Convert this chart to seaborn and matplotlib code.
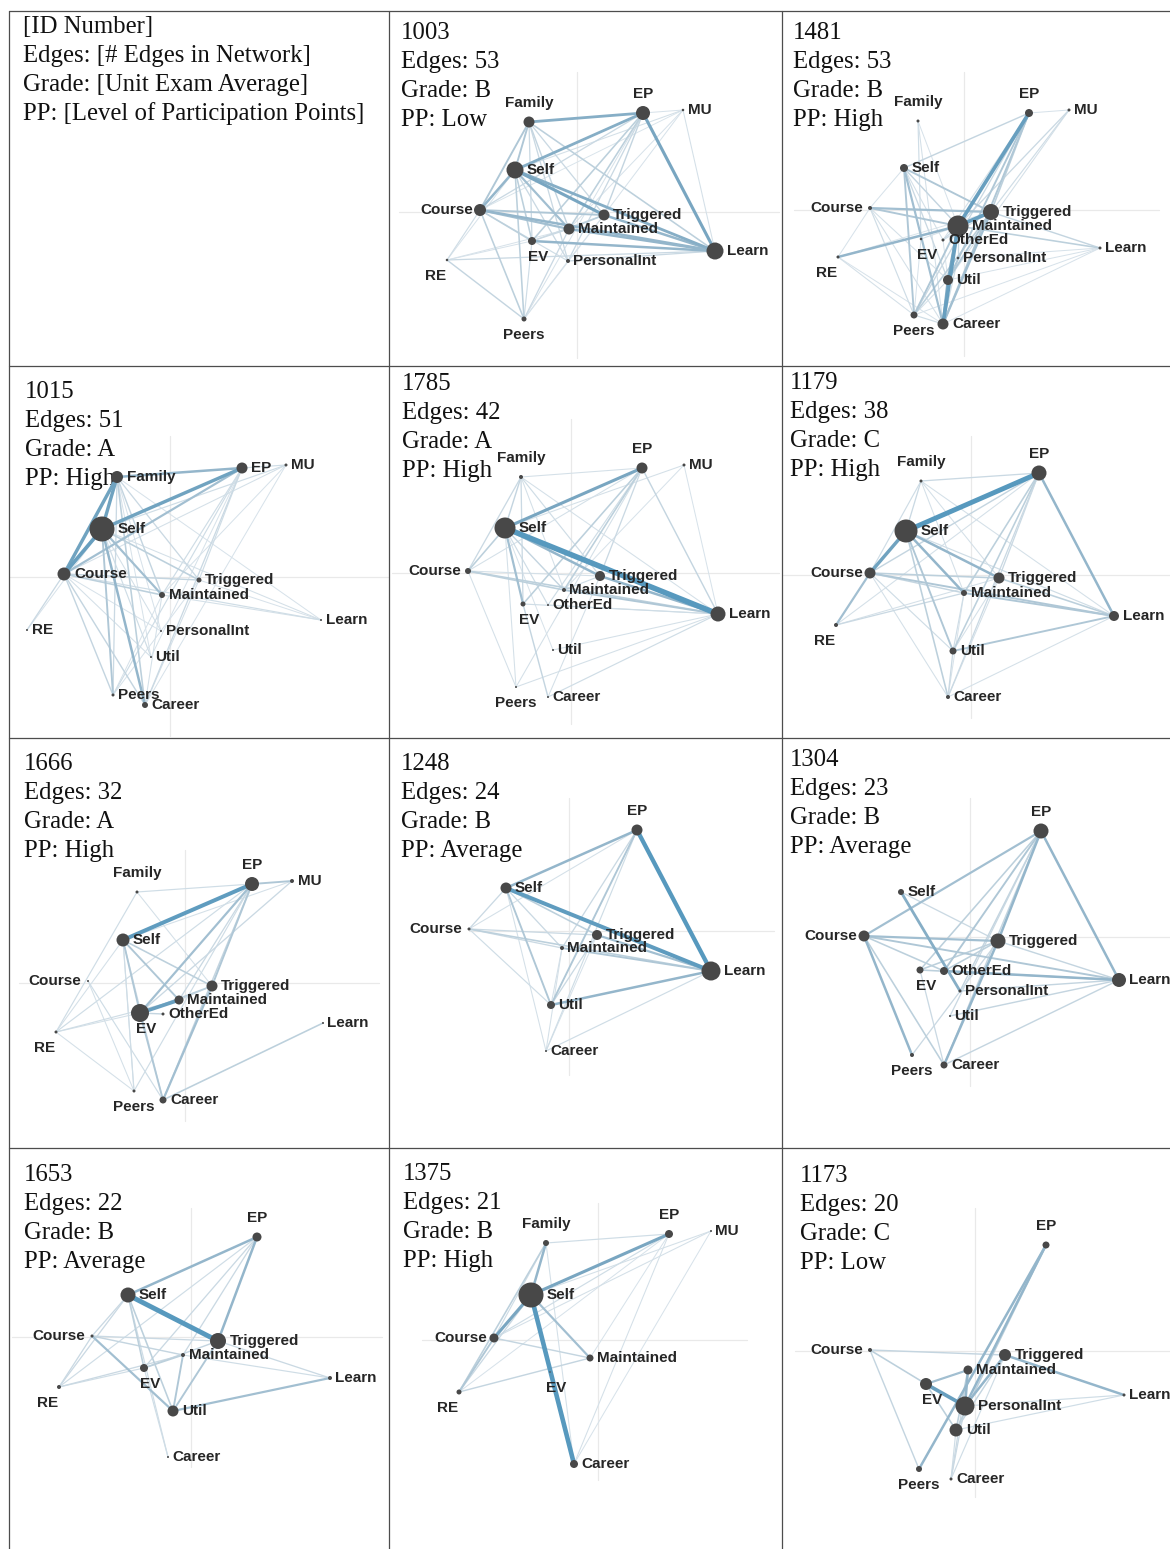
import numpy as np
import pandas as pd
import matplotlib.pyplot as plt
import seaborn as sns
from matplotlib.collections import LineCollection
from matplotlib.colors import LinearSegmentedColormap
from matplotlib.lines import Line2D

# Epistemic network models for 11 students. Node coordinates are in ENA space
# (about 100 px per unit), third value is node diameter (px, ~ weighted degree).

W, H = 1170, 1549

ids = ['1003', '1481', '1015', '1785', '1179', '1666', '1248', '1304', '1653', '1375', '1173']
edge_counts = [53, 53, 51, 42, 38, 32, 24, 23, 22, 21, 20]
grades = ['B', 'B', 'A', 'A', 'C', 'A', 'B', 'B', 'B', 'B', 'C']
pp_levels = ['Low', 'High', 'High', 'High', 'High', 'High', 'Average', 'Average', 'Average', 'High', 'Low']

header_lines = ['[ID Number]', 'Edges: [# Edges in Network]',
                'Grade: [Unit Exam Average]', 'PP: [Level of Participation Points]']

nodes_1003 = {'Family': (-0.48, 0.90, 11), 'EP': (0.66, 0.99, 14), 'MU': (1.06, 1.02, 2.5),
              'Self': (-0.62, 0.42, 17), 'Course': (-0.97, 0.02, 12), 'Triggered': (0.27, -0.03, 11),
              'Maintained': (-0.08, -0.17, 11), 'EV': (-0.45, -0.29, 8), 'PersonalInt': (-0.09, -0.49, 4),
              'Learn': (1.38, -0.39, 17), 'RE': (-1.30, -0.48, 2.5), 'Peers': (-0.53, -1.07, 5)}
edges_1003 = [('Family', 'EP', .35), ('Self', 'EP', .35), ('Self', 'Triggered', .4), ('Self', 'Learn', .35),
              ('EP', 'Learn', .4), ('Course', 'Self', .3), ('Course', 'Learn', .3), ('EV', 'Learn', .3),
              ('Maintained', 'Learn', .3), ('Triggered', 'Learn', .3), ('Course', 'Maintained', .25),
              ('Family', 'Self', .2), ('Family', 'Course', .2), ('Course', 'Triggered', .2),
              ('Self', 'Maintained', .25), ('Family', 'Learn', .15), ('Family', 'Maintained', .12),
              ('Family', 'EV', .1), ('Family', 'PersonalInt', .1), ('Family', 'Triggered', .1),
              ('EP', 'EV', .15), ('EP', 'Maintained', .15), ('EP', 'Course', .1), ('EP', 'Triggered', .12),
              ('EP', 'PersonalInt', .1), ('EP', 'MU', .05), ('EP', 'Peers', .05), ('Self', 'EV', .15),
              ('Self', 'PersonalInt', .1), ('Self', 'Peers', .15), ('Self', 'MU', .06), ('Self', 'RE', .05),
              ('Course', 'EV', .15), ('Course', 'Peers', .15), ('Course', 'RE', .08), ('Course', 'PersonalInt', .08),
              ('RE', 'Peers', .12), ('RE', 'Learn', .1), ('RE', 'EV', .05), ('RE', 'Maintained', .05),
              ('Peers', 'Maintained', .1), ('Peers', 'EV', .08), ('Peers', 'PersonalInt', .05),
              ('Peers', 'Triggered', .05), ('MU', 'Learn', .06), ('MU', 'Maintained', .05),
              ('MU', 'Triggered', .05), ('MU', 'Course', .04), ('EV', 'Maintained', .1), ('EV', 'Triggered', .08),
              ('PersonalInt', 'Learn', .1), ('Maintained', 'Triggered', .15), ('PersonalInt', 'Triggered', .05)]

nodes_1481 = {'Family': (-0.46, 0.89, 3), 'EP': (0.65, 0.97, 8), 'MU': (1.05, 1.00, 3), 'Self': (-0.60, 0.42, 8),
              'Course': (-0.94, 0.02, 4), 'Triggered': (0.27, -0.02, 16), 'Maintained': (-0.06, -0.16, 21),
              'OtherEd': (-0.21, -0.30, 3), 'EV': (-0.43, -0.29, 2.5), 'PersonalInt': (-0.06, -0.48, 2.5),
              'Learn': (1.36, -0.38, 3), 'RE': (-1.26, -0.47, 3), 'Util': (-0.16, -0.70, 10),
              'Peers': (-0.50, -1.05, 7), 'Career': (-0.21, -1.14, 11)}
edges_1481 = [('Maintained', 'EP', .5), ('Maintained', 'Career', .5), ('Maintained', 'Triggered', .5),
              ('Util', 'Career', .35), ('Maintained', 'Util', .35), ('Maintained', 'RE', .3),
              ('Course', 'Triggered', .25), ('Course', 'Maintained', .2), ('Self', 'Triggered', .2),
              ('Self', 'Career', .25), ('Self', 'Peers', .2), ('EP', 'Util', .2), ('EP', 'Career', .2),
              ('Peers', 'Maintained', .2), ('Peers', 'Triggered', .15), ('Maintained', 'Learn', .15),
              ('Triggered', 'Learn', .12), ('Triggered', 'Career', .25), ('Triggered', 'Util', .2),
              ('Self', 'EP', .12), ('Self', 'Maintained', .12), ('Family', 'EV', .08), ('MU', 'Maintained', .1),
              ('MU', 'Triggered', .08), ('MU', 'Util', .06), ('EP', 'Triggered', .15), ('EP', 'Peers', .1),
              ('Course', 'RE', .05), ('RE', 'Peers', .06), ('Course', 'Peers', .08), ('Course', 'Career', .06),
              ('Course', 'Util', .06), ('Self', 'Util', .1), ('Self', 'OtherEd', .06), ('OtherEd', 'Maintained', .1),
              ('PersonalInt', 'Maintained', .1), ('PersonalInt', 'Career', .08), ('Learn', 'Util', .05),
              ('Learn', 'Career', .05), ('Learn', 'PersonalInt', .05), ('EV', 'Maintained', .06),
              ('EV', 'Peers', .05), ('Family', 'Maintained', .05), ('Family', 'Career', .06),
              ('Career', 'Peers', .08), ('Learn', 'Peers', .05), ('Util', 'OtherEd', .05), ('RE', 'Career', .05),
              ('RE', 'Triggered', .04), ('EP', 'MU', .05), ('Course', 'Self', .05), ('EP', 'OtherEd', .06),
              ('Triggered', 'OtherEd', .08), ('Util', 'Peers', .06)]

nodes_1015 = {'Family': (-0.53, 1.00, 12), 'EP': (0.72, 1.09, 11), 'MU': (1.16, 1.12, 3), 'Self': (-0.68, 0.48, 25),
              'Course': (-1.06, 0.03, 13), 'Triggered': (0.29, -0.03, 5), 'Maintained': (-0.08, -0.18, 6),
              'RE': (-1.43, -0.53, 2), 'Learn': (1.51, -0.43, 2), 'PersonalInt': (-0.09, -0.54, 2),
              'Util': (-0.19, -0.80, 2), 'Peers': (-0.57, -1.18, 3), 'Career': (-0.25, -1.28, 6)}
edges_1015 = [('Self', 'Course', .5), ('Self', 'Family', .45), ('Self', 'EP', .45), ('Family', 'Course', .45),
              ('Family', 'EP', .3), ('Course', 'EP', .25), ('Self', 'Maintained', .25), ('Self', 'Career', .3),
              ('Self', 'Peers', .2), ('Self', 'Triggered', .15), ('Course', 'Triggered', .12),
              ('Course', 'Maintained', .15), ('Family', 'Maintained', .12), ('Family', 'Career', .15),
              ('Family', 'Peers', .1), ('Family', 'Triggered', .1), ('EP', 'Maintained', .08),
              ('EP', 'Triggered', .08), ('EP', 'Career', .1), ('EP', 'Peers', .08), ('EP', 'MU', .08),
              ('Course', 'RE', .1), ('Course', 'Peers', .12), ('Course', 'Career', .12), ('Course', 'Learn', .08),
              ('Course', 'Util', .06), ('Self', 'Learn', .06), ('Self', 'Util', .08), ('Self', 'PersonalInt', .06),
              ('MU', 'Self', .08), ('MU', 'Course', .06), ('MU', 'Career', .05), ('MU', 'Maintained', .05),
              ('Maintained', 'Learn', .06), ('Triggered', 'Learn', .05), ('Career', 'Triggered', .06),
              ('Peers', 'Triggered', .05), ('PersonalInt', 'Family', .05), ('Util', 'Family', .05),
              ('Util', 'EP', .05), ('Career', 'Maintained', .06), ('Peers', 'Maintained', .05),
              ('Family', 'Learn', .05), ('RE', 'Self', .05), ('Course', 'PersonalInt', .05)]

nodes_1785 = {'Family': (-0.50, 0.96, 4), 'EP': (0.71, 1.05, 11), 'MU': (1.13, 1.08, 3), 'Self': (-0.66, 0.45, 21),
              'Course': (-1.03, 0.02, 6), 'Triggered': (0.29, -0.03, 10), 'Maintained': (-0.07, -0.17, 4),
              'EV': (-0.48, -0.31, 5), 'OtherEd': (-0.23, -0.32, 2), 'Learn': (1.47, -0.41, 15),
              'Util': (-0.18, -0.77, 2), 'Peers': (-0.55, -1.14, 2), 'Career': (-0.23, -1.24, 2)}
edges_1785 = [('Self', 'Learn', .8), ('Self', 'EP', .4), ('Self', 'Triggered', .3), ('Triggered', 'Learn', .3),
              ('Self', 'EV', .25), ('Self', 'Course', .15), ('Maintained', 'Learn', .2), ('Course', 'Learn', .15),
              ('Course', 'Maintained', .15), ('EP', 'Learn', .12), ('EP', 'EV', .15), ('EP', 'Maintained', .15),
              ('EP', 'Triggered', .1), ('EP', 'OtherEd', .08), ('EP', 'Course', .06), ('Family', 'Self', .12),
              ('Family', 'Course', .1), ('Family', 'EV', .1), ('Family', 'Triggered', .08), ('Family', 'Learn', .06),
              ('Family', 'EP', .06), ('MU', 'Self', .06), ('MU', 'Maintained', .05), ('MU', 'Learn', .05),
              ('EV', 'Career', .12), ('EV', 'Learn', .08), ('Self', 'Maintained', .12), ('Self', 'OtherEd', .08),
              ('Peers', 'Course', .06), ('Peers', 'Learn', .06), ('Peers', 'Self', .06), ('Peers', 'EP', .06),
              ('Util', 'Learn', .06), ('Career', 'Learn', .08), ('Career', 'Triggered', .06), ('Util', 'Self', .05),
              ('OtherEd', 'Learn', .06), ('Maintained', 'Triggered', .08), ('Course', 'Triggered', .06),
              ('Family', 'Maintained', .06)]

nodes_1179 = {'Family': (-0.50, 0.94, 3), 'EP': (0.68, 1.02, 15), 'Self': (-0.65, 0.44, 23), 'Course': (-1.01, 0.02, 11),
              'Triggered': (0.28, -0.03, 11), 'Maintained': (-0.07, -0.18, 6), 'Learn': (1.43, -0.41, 10),
              'RE': (-1.35, -0.50, 4), 'Util': (-0.18, -0.76, 7), 'Career': (-0.23, -1.22, 4)}
edges_1179 = [('Self', 'EP', .7), ('Self', 'Course', .45), ('Self', 'Triggered', .3), ('Self', 'Maintained', .3),
              ('EP', 'Learn', .3), ('Course', 'RE', .25), ('Course', 'Learn', .2), ('Maintained', 'Learn', .2),
              ('Triggered', 'Learn', .15), ('Util', 'Learn', .2), ('Self', 'Util', .2), ('Self', 'Career', .15),
              ('EP', 'Util', .15), ('EP', 'Maintained', .15), ('EP', 'Career', .1), ('EP', 'Course', .12),
              ('EP', 'Triggered', .1), ('Family', 'EP', .1), ('Family', 'Self', .1), ('Family', 'Course', .08),
              ('Family', 'Maintained', .06), ('Family', 'Learn', .06), ('Family', 'Triggered', .06),
              ('Course', 'Triggered', .15), ('Course', 'Maintained', .12), ('Course', 'Util', .08),
              ('Course', 'Career', .06), ('RE', 'Maintained', .1), ('RE', 'Triggered', .06), ('RE', 'EP', .06),
              ('Util', 'Career', .1), ('Career', 'Learn', .06), ('Maintained', 'Util', .08),
              ('Career', 'Triggered', .06), ('Self', 'Learn', .08), ('Util', 'Triggered', .06),
              ('Career', 'Maintained', .05)]

nodes_1666 = {'Family': (-0.48, 0.91, 3), 'EP': (0.67, 0.99, 14), 'MU': (1.07, 1.02, 4), 'Self': (-0.62, 0.43, 13),
              'Course': (-0.97, 0.02, 2), 'Triggered': (0.27, -0.03, 11), 'Maintained': (-0.06, -0.17, 9),
              'EV': (-0.45, -0.30, 18), 'OtherEd': (-0.22, -0.31, 3), 'RE': (-1.29, -0.49, 3),
              'Learn': (1.38, -0.40, 2), 'Peers': (-0.51, -1.08, 3), 'Career': (-0.22, -1.17, 7)}
edges_1666 = [('Self', 'EP', .55), ('EV', 'Maintained', .5), ('EV', 'EP', .25), ('EP', 'MU', .2),
              ('EP', 'Triggered', .2), ('Career', 'Triggered', .25), ('Career', 'EV', .2), ('Self', 'EV', .2),
              ('Self', 'Triggered', .15), ('Self', 'Maintained', .2), ('Career', 'Learn', .15),
              ('EV', 'Triggered', .15), ('EV', 'OtherEd', .12), ('Maintained', 'Triggered', .1),
              ('Maintained', 'EP', .1), ('Family', 'EP', .08), ('Family', 'RE', .08), ('Family', 'Triggered', .06),
              ('Course', 'Career', .08), ('Course', 'Peers', .06), ('RE', 'EP', .08), ('RE', 'Maintained', .08),
              ('RE', 'Peers', .06), ('RE', 'EV', .06), ('Peers', 'EP', .08), ('Peers', 'Self', .08),
              ('MU', 'EV', .1), ('Career', 'EP', .12), ('Self', 'Peers', .06), ('Career', 'Self', .06),
              ('RE', 'Self', .06), ('MU', 'Self', .06)]

nodes_1248 = {'EP': (0.68, 1.01, 11), 'Self': (-0.63, 0.43, 11), 'Course': (-1.00, 0.02, 3),
              'Triggered': (0.28, -0.04, 10), 'Maintained': (-0.07, -0.17, 4), 'Learn': (1.42, -0.40, 19),
              'Util': (-0.18, -0.74, 8), 'Career': (-0.23, -1.20, 2)}
edges_1248 = [('EP', 'Learn', .6), ('Self', 'Learn', .55), ('Self', 'EP', .3), ('Triggered', 'Learn', .25),
              ('Maintained', 'Learn', .2), ('Util', 'Learn', .3), ('Self', 'Triggered', .15), ('Self', 'Util', .2),
              ('EP', 'Util', .2), ('EP', 'Maintained', .1), ('Course', 'Self', .1), ('Course', 'Learn', .15),
              ('Course', 'Triggered', .1), ('Course', 'Maintained', .1), ('Course', 'Util', .08),
              ('Career', 'Learn', .08), ('Career', 'Self', .06), ('Career', 'EP', .08), ('Career', 'Maintained', .06),
              ('Self', 'Maintained', .1), ('Util', 'Triggered', .1), ('Course', 'EP', .06), ('Util', 'Maintained', .06),
              ('Career', 'Triggered', .05)]

nodes_1304 = {'EP': (0.71, 1.06, 15), 'Self': (-0.69, 0.45, 6), 'Course': (-1.06, 0.01, 11),
              'Triggered': (0.28, -0.04, 15), 'EV': (-0.50, -0.33, 7), 'OtherEd': (-0.26, -0.34, 8),
              'PersonalInt': (-0.10, -0.54, 3), 'Learn': (1.49, -0.43, 14), 'Util': (-0.20, -0.79, 2),
              'Peers': (-0.58, -1.18, 4), 'Career': (-0.26, -1.28, 7)}
edges_1304 = [('EP', 'Learn', .3), ('EP', 'Triggered', .3), ('EP', 'Course', .25), ('EP', 'OtherEd', .2),
              ('EP', 'EV', .15), ('EP', 'PersonalInt', .12), ('EP', 'Util', .1), ('EP', 'Career', .12),
              ('Self', 'PersonalInt', .35), ('Self', 'Triggered', .1), ('Course', 'Triggered', .25),
              ('Course', 'Learn', .2), ('Course', 'Peers', .3), ('Course', 'Career', .15), ('Course', 'OtherEd', .15),
              ('Triggered', 'Career', .3), ('Triggered', 'EV', .15), ('Triggered', 'OtherEd', .15),
              ('OtherEd', 'Learn', .3), ('EV', 'Learn', .15), ('PersonalInt', 'Learn', .12), ('Util', 'Learn', .12),
              ('Career', 'Learn', .12), ('Peers', 'Triggered', .1), ('EV', 'Career', .1), ('Triggered', 'Learn', .12)]

nodes_1653 = {'EP': (0.66, 1.00, 9), 'Self': (-0.63, 0.42, 15), 'Course': (-0.99, 0.01, 3),
              'Triggered': (0.27, -0.04, 16), 'Maintained': (-0.08, -0.18, 4), 'EV': (-0.47, -0.31, 8),
              'RE': (-1.32, -0.50, 4), 'Learn': (1.39, -0.41, 4), 'Util': (-0.18, -0.74, 11), 'Career': (-0.23, -1.20, 2)}
edges_1653 = [('Self', 'Triggered', .7), ('Self', 'EP', .3), ('EP', 'Triggered', .3), ('EP', 'Maintained', .1),
              ('EP', 'EV', .1), ('EP', 'RE', .08), ('Course', 'Util', .25), ('Course', 'Maintained', .12),
              ('Course', 'Triggered', .1), ('Course', 'RE', .1), ('Self', 'Util', .15), ('Self', 'EV', .15),
              ('Self', 'Course', .1), ('Self', 'RE', .1), ('Self', 'Career', .08), ('Util', 'Triggered', .2),
              ('Util', 'Maintained', .2), ('Util', 'Learn', .25), ('EV', 'Maintained', .15), ('EV', 'Triggered', .12),
              ('RE', 'Maintained', .1), ('RE', 'EV', .08), ('Triggered', 'Learn', .1), ('Maintained', 'Learn', .08),
              ('Career', 'EV', .08)]

nodes_1375 = {'Family': (-0.52, 0.97, 6), 'EP': (0.71, 1.06, 8), 'MU': (1.13, 1.09, 2), 'Self': (-0.67, 0.45, 25),
              'Course': (-1.04, 0.02, 9), 'Maintained': (-0.08, -0.18, 7), 'EV': (-0.48, -0.32, 1.5),
              'RE': (-1.39, -0.52, 5), 'Career': (-0.24, -1.24, 8)}
edges_1375 = [('Self', 'Career', .65), ('Self', 'EP', .4), ('Self', 'Course', .4), ('Self', 'Family', .3),
              ('Self', 'Maintained', .25), ('Course', 'RE', .2), ('Family', 'RE', .15), ('Course', 'Maintained', .12),
              ('RE', 'Maintained', .12), ('Family', 'EP', .08), ('MU', 'Self', .06), ('MU', 'Course', .06),
              ('EP', 'Course', .08), ('EP', 'Career', .06), ('MU', 'Career', .05), ('Family', 'Career', .06),
              ('Self', 'RE', .1), ('EV', 'Career', .05), ('Maintained', 'EP', .05), ('Family', 'Course', .08),
              ('EP', 'RE', .05)]

nodes_1173 = {'EP': (0.71, 1.06, 7), 'Course': (-1.05, 0.01, 4), 'Triggered': (0.30, -0.04, 12),
              'Maintained': (-0.07, -0.19, 9), 'EV': (-0.49, -0.33, 12), 'PersonalInt': (-0.10, -0.55, 19),
              'Learn': (1.49, -0.44, 3), 'Util': (-0.19, -0.79, 13), 'Peers': (-0.56, -1.18, 6), 'Career': (-0.24, -1.28, 3)}
edges_1173 = [('EV', 'PersonalInt', .5), ('EV', 'Maintained', .25), ('Maintained', 'PersonalInt', .3),
              ('Triggered', 'PersonalInt', .3), ('Triggered', 'Learn', .3), ('EP', 'PersonalInt', .3),
              ('EP', 'Peers', .3), ('EP', 'Util', .15), ('Course', 'Triggered', .12), ('Course', 'EV', .15),
              ('Course', 'Peers', .12), ('Learn', 'PersonalInt', .08), ('Learn', 'Util', .08),
              ('Career', 'PersonalInt', .1), ('Career', 'Maintained', .1), ('Career', 'Triggered', .08),
              ('Career', 'Util', .08), ('EV', 'Util', .15), ('Triggered', 'Util', .12), ('Maintained', 'Util', .15)]

networks = {'1003': (nodes_1003, edges_1003), '1481': (nodes_1481, edges_1481), '1015': (nodes_1015, edges_1015),
            '1785': (nodes_1785, edges_1785), '1179': (nodes_1179, edges_1179), '1666': (nodes_1666, edges_1666),
            '1248': (nodes_1248, edges_1248), '1304': (nodes_1304, edges_1304), '1653': (nodes_1653, edges_1653),
            '1375': (nodes_1375, edges_1375), '1173': (nodes_1173, edges_1173)}

# ---- layout (pixels) ----
col_x = [9, 389, 782, 1170]
row_y = [11, 366, 738, 1148, 1549]
cells = [(col_x[c], row_y[r], col_x[c + 1], row_y[r + 1]) for r in range(4) for c in range(3)]
origins = [(577, 212), (964, 210), (170, 577), (571, 573), (971, 575), (185, 983),
           (569, 931), (970, 937), (191, 1337), (598, 1340), (975, 1351)]
guides = [(-1.78, 2.02, -1.46, 1.40), (-1.70, 1.95, -1.46, 1.38), (-1.61, 2.19, -1.59, 1.41),
          (-1.79, 2.08, -1.51, 1.54), (-1.89, 1.99, -1.43, 1.39), (-1.66, 1.94, -1.38, 1.33),
          (-1.00, 2.05, -1.44, 1.33), (-1.10, 2.00, -1.49, 1.39), (-1.79, 1.91, -1.30, 1.29),
          (-1.76, 1.49, -1.40, 1.37), (-1.80, 1.95, -1.46, 1.43)]
text_pos = [(14, 16), (12, 22), (11, 22), (16, 26), (13, 18), (8, 17), (15, 26), (12, 26), (8, 22),
            (15, 27), (14, 26), (18, 28)]
place = {'Family': 'above', 'EP': 'above', 'Course': 'left', 'EV': 'below', 'RE': 'below', 'Peers': 'below'}
below_off = {'EV': (6, -16), 'RE': (-11, -16), 'Peers': (0, -16)}

sns.set_theme(style='white')
plt.rcParams['font.family'] = ['Liberation Sans', 'DejaVu Sans']
serif = ['Liberation Serif', 'DejaVu Serif']

edge_cmap = LinearSegmentedColormap.from_list('ena', ['#e4ebf0', '#afc7d6', '#79a6c1', '#5799be'])

fig = plt.figure(figsize=(W / 100, H / 100), dpi=100)


def cell_axes(k):
    x0, y0, x1, y1 = cells[k]
    return fig.add_axes([x0 / W, 1 - y1 / H, (x1 - x0) / W, (y1 - y0) / H])


def text_block(ax, k, lines):
    dx, dy = text_pos[k]
    for i, line in enumerate(lines):
        ax.annotate(line, xy=(0, 1), xycoords='axes fraction', xytext=(dx, -dy - 29 * i),
                    textcoords='offset pixels', ha='left', va='center', fontsize=17.8,
                    family=serif, color='#111111', zorder=0.5, annotation_clip=False)


ax0 = cell_axes(0)
ax0.axis('off')
text_block(ax0, 0, header_lines)

for k, nid in enumerate(ids):
    nodes, edges = networks[nid]
    x0, y0, x1, y1 = cells[k + 1]
    ox, oy = origins[k]
    ax = cell_axes(k + 1)
    ax.set_xlim((x0 - ox) / 100, (x1 - ox) / 100)
    ax.set_ylim((oy - y1) / 100, (oy - y0) / 100)
    ax.axis('off')

    hx0, hx1, vy0, vy1 = guides[k]
    ax.plot([hx0, hx1], [0, 0], color='#e9e9e9', lw=0.9, zorder=0.2)
    ax.plot([0, 0], [vy0, vy1], color='#e9e9e9', lw=0.9, zorder=0.2)

    text_block(ax, k + 1, [nid, f'Edges: {edge_counts[k]}', f'Grade: {grades[k]}', f'PP: {pp_levels[k]}'])

    ed = sorted(edges, key=lambda e: e[2])
    segs = [[nodes[a][:2], nodes[b][:2]] for a, b, w in ed]
    wts = np.array([w for a, b, w in ed])
    lc = LineCollection(segs, colors=edge_cmap(np.clip(wts / 0.6, 0, 1)),
                        linewidths=(0.7 + 6.0 * wts) * 0.72, zorder=1, capstyle='round')
    ax.add_collection(lc)

    df = pd.DataFrame([(n, v[0], v[1], (v[2] * 0.72) ** 2) for n, v in nodes.items()],
                      columns=['node', 'x', 'y', 's'])
    sns.scatterplot(data=df, x='x', y='y', size='s', sizes=(0, 1000), size_norm=(0, 1000),
                    color='#484848', linewidth=0, legend=False, ax=ax, zorder=3)

    for n, (x, y, d) in nodes.items():
        mode = 'right' if nid == '1015' else place.get(n, 'right')
        if mode == 'right':
            off, ha = (d / 2 + 3.5, 0), 'left'
        elif mode == 'left':
            off, ha = (-7, 0), 'right'
        elif mode == 'above':
            off, ha = (0, 19), 'center'
        else:
            off, ha = below_off[n], 'center'
        ax.annotate(n, xy=(x, y), xytext=off, textcoords='offset pixels', ha=ha, va='center',
                    fontsize=11, fontweight='bold', color='#262626', zorder=4, annotation_clip=False)

# table rules
for x in col_x[:3]:
    fig.add_artist(Line2D([x / W, x / W], [0, 1 - row_y[0] / H], transform=fig.transFigure,
                          color='#4d4d4d', lw=0.9))
for y in row_y[:4]:
    fig.add_artist(Line2D([col_x[0] / W, 1], [1 - y / H, 1 - y / H], transform=fig.transFigure,
                          color='#4d4d4d', lw=0.9))

fig.savefig('out.png', dpi=100, facecolor='white')
